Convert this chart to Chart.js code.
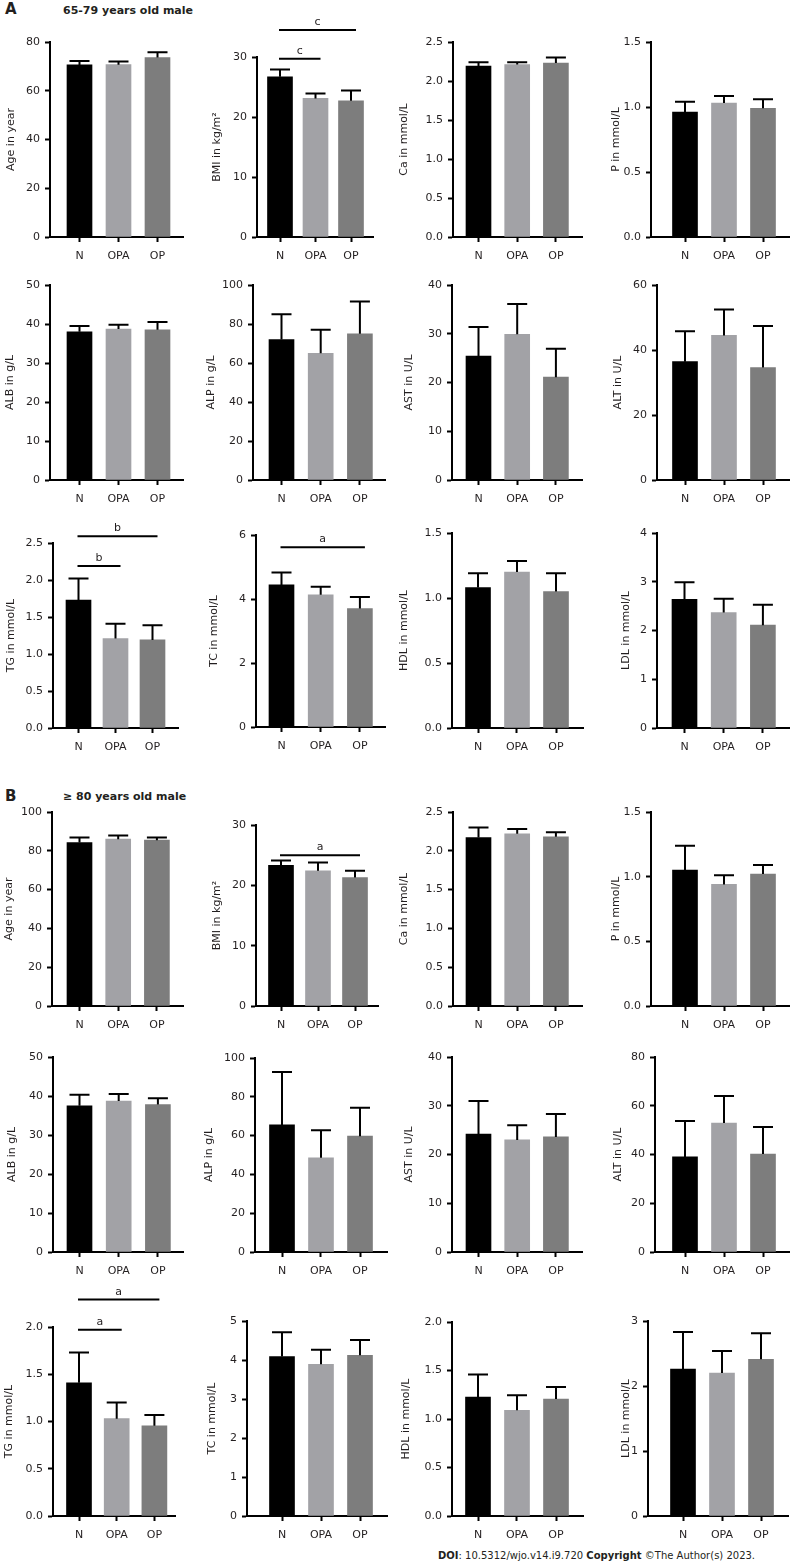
<!DOCTYPE html>
<html>
<head>
<meta charset="utf-8">
<script src="https://cdn.jsdelivr.net/npm/chart.js@4"></script>
<style>
html, body { margin: 0; padding: 0; background: #fff; overflow: hidden; }
#page { position: relative; width: 791px; height: 1563px; overflow: hidden; font-family: 'DejaVu Sans', sans-serif; color: #231f20; }
#page canvas { position: absolute; }
.hdr { position: absolute; font-weight: bold; white-space: nowrap; line-height: 1; }
.foot { position: absolute; white-space: nowrap; line-height: 1; font-size: 10px; }
</style>
</head>
<body>
<div id="page">
  <div class="hdr" style="left:5px; top:2px; font-size:15px;">A</div>
  <div class="hdr" style="left:63px; top:5px; font-size:11px;">65-79 years old male</div>
  <div class="hdr" style="left:5px; top:789px; font-size:15px;">B</div>
  <div class="hdr" style="left:63px; top:791px; font-size:11px;">≥ 80 years old male</div>
  <div class="foot" style="left:438px; top:1551px;"><b>DOI</b>: 10.5312/wjo.v14.i9.720 <b>Copyright</b> ©The Author(s) 2023.</div>
</div>
<script>
// --- Data ---
const groupLabels = ['N', 'OPA', 'OP'];
const barColors = ['#000000', '#a2a2a6', '#7d7d7d'];

const axisTitles = ['Age in year', 'BMI in kg/m²', 'Ca in mmol/L', 'P in mmol/L',
    'ALB in g/L', 'ALP in g/L', 'AST in U/L', 'ALT in U/L',
    'TG in mmol/L', 'TC in mmol/L', 'HDL in mmol/L', 'LDL in mmol/L'];

const axisMaxA = [80, 30, 2.5, 1.5, 50, 100, 40, 60, 2.5, 6, 1.5, 4];
const axisStepA = [20, 10, 0.5, 0.5, 10, 20, 10, 20, 0.5, 2, 0.5, 1];
const axisMaxB = [100, 30, 2.5, 1.5, 50, 100, 40, 80, 2.0, 5, 2.0, 3];
const axisStepB = [20, 10, 0.5, 0.5, 10, 20, 10, 20, 0.5, 1, 0.5, 1];

// means and top of the error bar (mean + SD), N / OPA / OP
const meansA = [
    [70.6, 70.7, 73.6], [26.7, 23.1, 22.7], [2.19, 2.21, 2.23], [0.96, 1.03, 0.99],
    [38.0, 38.7, 38.5], [72, 65, 75], [25.4, 29.9, 21.1], [36.4, 44.5, 34.6],
    [1.73, 1.21, 1.19], [4.44, 4.13, 3.70], [1.08, 1.20, 1.05], [2.64, 2.37, 2.11]
];
const upperA = [
    [72.2, 72.0, 75.8], [27.9, 23.9, 24.4], [2.24, 2.24, 2.30], [1.04, 1.085, 1.06],
    [39.5, 39.8, 40.5], [85, 77, 91.5], [31.4, 36.1, 26.9], [45.8, 52.5, 47.4],
    [2.02, 1.41, 1.39], [4.83, 4.38, 4.06], [1.19, 1.285, 1.19], [2.99, 2.65, 2.53]
];
const meansB = [
    [84.3, 86.0, 85.5], [23.3, 22.4, 21.3], [2.17, 2.22, 2.18], [1.05, 0.94, 1.02],
    [37.5, 38.7, 37.8], [65.5, 48.6, 59.7], [24.2, 23.0, 23.6], [39.0, 52.9, 40.2],
    [1.41, 1.03, 0.955], [4.09, 3.89, 4.12], [1.225, 1.09, 1.205], [2.26, 2.20, 2.41]
];
const upperB = [
    [86.9, 87.9, 86.9], [24.1, 23.8, 22.4], [2.30, 2.28, 2.24], [1.24, 1.01, 1.09],
    [40.3, 40.5, 39.4], [92.8, 62.8, 74.3], [31.0, 26.0, 28.3], [53.7, 64.0, 51.3],
    [1.73, 1.20, 1.07], [4.71, 4.26, 4.51], [1.46, 1.245, 1.33], [2.83, 2.54, 2.81]
];

// significance bars: [from group, to group, height in axis units, letter]
const sigA = [[], [[0, 1, 29.7, 'c'], [0, 2, 34.5, 'c']], [], [], [], [], [], [],
    [[0, 1, 2.19, 'b'], [0, 2, 2.59, 'b']], [[0, 2, 5.62, 'a']], [], []];
const sigB = [[], [[0, 2, 25, 'a']], [], [], [], [], [], [],
    [[0, 1, 1.97, 'a'], [0, 2, 2.29, 'a']], [], [], []];

// --- Panel placement on the page ---
// [y axis x, axis title x, plot top, plot bottom, first bar centre, bar gap, x axis end]
const panelBoxes = [
    [50, 12, 42, 237, 79.5, 39, 183], [257, 218, 57, 237, 280, 35.5, 373],
    [453, 405, 42, 237, 478.5, 38.7, 582], [651, 617, 42, 237, 685, 39, 789],
    [50, 11, 285, 480, 79.5, 39, 183], [253, 212, 285, 480, 281.5, 39.2, 385],
    [452, 410, 285, 480, 478.5, 38.7, 582], [657, 619, 285, 480, 685, 39, 789],
    [53, 12, 543, 728, 78.5, 37, 178], [256, 215, 535, 727, 281.5, 39.2, 385],
    [452, 405, 533, 728, 478, 39, 583], [657, 627, 533, 728, 684.5, 39.2, 789],
    [52, 10, 812, 1006, 79.5, 38.7, 183], [256, 218, 825, 1006, 281, 37, 378],
    [453, 405, 812, 1006, 478.5, 38.7, 582], [651, 617, 812, 1006, 685, 39, 789],
    [53, 13, 1057, 1252, 79.5, 39.2, 183], [255, 210, 1058, 1252, 282, 39, 387],
    [452, 410, 1057, 1252, 478.5, 38.7, 582], [655, 619, 1057, 1252, 685, 39, 789],
    [53, 10, 1327, 1516, 79, 37.7, 175], [247, 213, 1321, 1516, 282, 39, 387],
    [452, 407, 1322, 1516, 478, 39, 583], [648, 627, 1321, 1516, 683, 39, 788]
];

const PAD_TOP = 48;
const X_AXIS_H = 32;
const INK = '#231f20';

Chart.defaults.font.family = "'DejaVu Sans', sans-serif";
Chart.defaults.font.size = 11;
Chart.defaults.color = INK;

// --- Plugins ---
const errorBars = {
    id: 'errorBars',
    afterDatasetsDraw(chart, args, opts) {
        const { ctx, scales: { x, y } } = chart;
        ctx.save();
        ctx.strokeStyle = '#000';
        ctx.lineWidth = 2;
        opts.means.forEach((m, i) => {
            const px = x.getPixelForValue(i);
            const top = y.getPixelForValue(opts.upper[i]);
            ctx.beginPath();
            ctx.moveTo(px, y.getPixelForValue(m));
            ctx.lineTo(px, top);
            ctx.moveTo(px - 10, top);
            ctx.lineTo(px + 10, top);
            ctx.stroke();
        });
        ctx.restore();
    }
};

const sigBars = {
    id: 'sigBars',
    afterDraw(chart, args, opts) {
        const { ctx, scales: { x, y } } = chart;
        ctx.save();
        ctx.strokeStyle = '#000';
        ctx.lineWidth = 2;
        ctx.fillStyle = INK;
        ctx.font = "11px 'DejaVu Sans'";
        ctx.textAlign = 'center';
        opts.items.forEach(([from, to, level, letter]) => {
            const x1 = x.getPixelForValue(from) - 1;
            const x2 = x.getPixelForValue(to) + 5;
            const py = y.getPixelForValue(level);
            ctx.beginPath();
            ctx.moveTo(x1, py);
            ctx.lineTo(x2, py);
            ctx.stroke();
            ctx.fillText(letter, (x1 + x2) / 2, py - 5);
        });
        ctx.restore();
    }
};

// --- Build one panel ---
function makePanel(box, title, maxVal, step, means, upper, sigs) {
    const [ax, tx, top, bottom, c0, gap, end] = box;
    const left = Math.round(tx - 7);
    const canvasTop = top - PAD_TOP;
    const canvas = document.createElement('canvas');
    canvas.width = end - left + 3;
    canvas.height = bottom - canvasTop + X_AXIS_H;
    canvas.style.left = left + 'px';
    canvas.style.top = canvasTop + 'px';
    document.getElementById('page').appendChild(canvas);

    const decimals = step < 1 ? 1 : 0;
    const axisGrid = { display: true, offset: false, drawOnChartArea: false, drawTicks: true, tickLength: 5, tickWidth: 2, tickColor: '#000' };
    const axisBorder = { display: true, color: '#000', width: 2 };

    new Chart(canvas, {
        type: 'bar',
        data: {
            datasets: [{
                data: means.map((m, i) => ({ x: i, y: m })),
                backgroundColor: barColors,
                borderWidth: 0,
                barThickness: 25
            }]
        },
        options: {
            responsive: false,
            animation: false,
            events: [],
            layout: { padding: { top: PAD_TOP, right: 3, left: 0, bottom: 0 } },
            scales: {
                x: {
                    type: 'linear',
                    offset: false,
                    bounds: 'data',
                    min: (ax - c0) / gap,
                    max: (end - c0) / gap,
                    afterBuildTicks: s => { s.ticks = groupLabels.map((_, i) => ({ value: i })); },
                    afterFit: s => { s.height = X_AXIS_H; },
                    ticks: { callback: v => groupLabels[v], padding: 8, autoSkip: false, maxRotation: 0 },
                    grid: axisGrid,
                    border: axisBorder
                },
                y: {
                    min: 0,
                    max: maxVal,
                    afterFit: s => { s.width = ax - left; },
                    ticks: { stepSize: step, padding: 5, callback: v => v.toFixed(decimals) },
                    grid: axisGrid,
                    border: axisBorder,
                    title: { display: true, text: title, padding: 0, font: { size: 11 } }
                }
            },
            plugins: {
                legend: { display: false },
                tooltip: { enabled: false },
                errorBars: { means: means, upper: upper },
                sigBars: { items: sigs }
            }
        },
        plugins: [errorBars, sigBars]
    });
}

axisTitles.forEach((title, i) => {
    makePanel(panelBoxes[i], title, axisMaxA[i], axisStepA[i], meansA[i], upperA[i], sigA[i]);
    makePanel(panelBoxes[i + 12], title, axisMaxB[i], axisStepB[i], meansB[i], upperB[i], sigB[i]);
});
</script>
</body>
</html>
